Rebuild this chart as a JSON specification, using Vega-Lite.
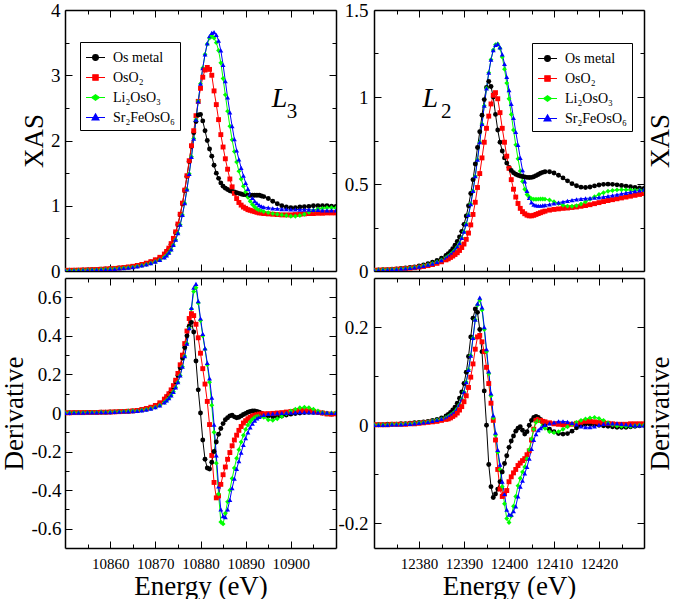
{
"$schema": "https://vega.github.io/schema/vega-lite/v6.json",
"background": "white",
"padding": {"left": 0, "top": 1, "right": 0, "bottom": 0},
"config": {
  "font": "Liberation Serif",
  "view": {"stroke": null},
  "axis": {"labelFont": "Liberation Serif, serif", "titleFont": "Liberation Serif, serif", "labelColor": "#000", "titleColor": "#000", "titleFontWeight": "normal", "titleFontSize": 27, "domainColor": "#000", "domainWidth": 1.5, "tickColor": "#000", "tickWidth": 1, "grid": false, "zindex": 1},
  "legend": {"labelFont": "Liberation Serif", "labelFontSize": 14, "labelColor": "#000", "symbolStrokeWidth": 1.2}
},
"datasets": {
"l3x": [
{"E":10850,"M":0.010,"O":0.010,"L":0.008,"S":0.008},
{"E":10851,"M":0.011,"O":0.011,"L":0.009,"S":0.009},
{"E":10852,"M":0.012,"O":0.012,"L":0.010,"S":0.010},
{"E":10853,"M":0.014,"O":0.014,"L":0.011,"S":0.011},
{"E":10854,"M":0.016,"O":0.016,"L":0.013,"S":0.013},
{"E":10855,"M":0.018,"O":0.018,"L":0.015,"S":0.015},
{"E":10856,"M":0.020,"O":0.021,"L":0.017,"S":0.017},
{"E":10857,"M":0.023,"O":0.024,"L":0.020,"S":0.020},
{"E":10858,"M":0.026,"O":0.027,"L":0.023,"S":0.023},
{"E":10859,"M":0.030,"O":0.031,"L":0.026,"S":0.026},
{"E":10860,"M":0.034,"O":0.035,"L":0.030,"S":0.030},
{"E":10861,"M":0.039,"O":0.040,"L":0.034,"S":0.034},
{"E":10862,"M":0.045,"O":0.046,"L":0.039,"S":0.039},
{"E":10863,"M":0.052,"O":0.053,"L":0.045,"S":0.045},
{"E":10864,"M":0.060,"O":0.062,"L":0.052,"S":0.052},
{"E":10865,"M":0.070,"O":0.072,"L":0.060,"S":0.061},
{"E":10866,"M":0.082,"O":0.085,"L":0.071,"S":0.072},
{"E":10867,"M":0.097,"O":0.100,"L":0.084,"S":0.085},
{"E":10868,"M":0.115,"O":0.120,"L":0.100,"S":0.101},
{"E":10869,"M":0.137,"O":0.143,"L":0.119,"S":0.120},
{"E":10870,"M":0.165,"O":0.172,"L":0.142,"S":0.143},
{"E":10871,"M":0.20,"O":0.21,"L":0.17,"S":0.17},
{"E":10872,"M":0.25,"O":0.26,"L":0.21,"S":0.21},
{"E":10872.5,"M":0.29,"O":0.30,"L":0.24,"S":0.24},
{"E":10873,"M":0.34,"O":0.35,"L":0.28,"S":0.28},
{"E":10873.5,"M":0.41,"O":0.42,"L":0.33,"S":0.33},
{"E":10874,"M":0.49,"O":0.50,"L":0.40,"S":0.40},
{"E":10874.5,"M":0.59,"O":0.60,"L":0.48,"S":0.48},
{"E":10875,"M":0.71,"O":0.72,"L":0.58,"S":0.58},
{"E":10875.5,"M":0.86,"O":0.87,"L":0.71,"S":0.71},
{"E":10876,"M":1.03,"O":1.04,"L":0.86,"S":0.86},
{"E":10876.5,"M":1.23,"O":1.24,"L":1.04,"S":1.04},
{"E":10877,"M":1.45,"O":1.46,"L":1.25,"S":1.25},
{"E":10877.5,"M":1.68,"O":1.69,"L":1.49,"S":1.49},
{"E":10878,"M":1.91,"O":1.92,"L":1.75,"S":1.75},
{"E":10878.5,"M":2.12,"O":2.15,"L":2.03,"S":2.03},
{"E":10879,"M":2.29,"O":2.38,"L":2.32,"S":2.32},
{"E":10879.5,"M":2.39,"O":2.60,"L":2.60,"S":2.60},
{"E":10880,"M":2.40,"O":2.80,"L":2.87,"S":2.87},
{"E":10880.5,"M":2.30,"O":2.97,"L":3.11,"S":3.11},
{"E":10881,"M":2.15,"O":3.08,"L":3.32,"S":3.32},
{"E":10881.5,"M":2.00,"O":3.12,"L":3.48,"S":3.49},
{"E":10882,"M":1.87,"O":3.09,"L":3.57,"S":3.60},
{"E":10882.5,"M":1.76,"O":3.00,"L":3.60,"S":3.65},
{"E":10883,"M":1.62,"O":2.76,"L":3.57,"S":3.66},
{"E":10883.5,"M":1.50,"O":2.55,"L":3.50,"S":3.62},
{"E":10884,"M":1.42,"O":2.32,"L":3.38,"S":3.53},
{"E":10884.5,"M":1.35,"O":2.09,"L":3.19,"S":3.38},
{"E":10885,"M":1.30,"O":1.90,"L":2.95,"S":3.16},
{"E":10885.5,"M":1.27,"O":1.72,"L":2.70,"S":2.91},
{"E":10886,"M":1.25,"O":1.56,"L":2.45,"S":2.66},
{"E":10886.5,"M":1.23,"O":1.41,"L":2.22,"S":2.43},
{"E":10887,"M":1.22,"O":1.29,"L":2.01,"S":2.22},
{"E":10887.5,"M":1.21,"O":1.19,"L":1.83,"S":2.02},
{"E":10888,"M":1.20,"O":1.11,"L":1.67,"S":1.85},
{"E":10888.5,"M":1.19,"O":1.05,"L":1.53,"S":1.71},
{"E":10889,"M":1.18,"O":1.01,"L":1.41,"S":1.58},
{"E":10889.5,"M":1.17,"O":0.98,"L":1.30,"S":1.46},
{"E":10890,"M":1.17,"O":0.96,"L":1.21,"S":1.35},
{"E":10890.5,"M":1.16,"O":0.94,"L":1.13,"S":1.26},
{"E":10891,"M":1.16,"O":0.93,"L":1.07,"S":1.18},
{"E":10891.5,"M":1.16,"O":0.92,"L":1.02,"S":1.12},
{"E":10892,"M":1.16,"O":0.91,"L":0.98,"S":1.07},
{"E":10892.5,"M":1.16,"O":0.90,"L":0.95,"S":1.04},
{"E":10893,"M":1.16,"O":0.89,"L":0.93,"S":1.01},
{"E":10893.5,"M":1.15,"O":0.89,"L":0.92,"S":0.99},
{"E":10894,"M":1.14,"O":0.88,"L":0.91,"S":0.98},
{"E":10895,"M":1.11,"O":0.875,"L":0.895,"S":0.97},
{"E":10896,"M":1.07,"O":0.87,"L":0.88,"S":0.96},
{"E":10897,"M":1.03,"O":0.865,"L":0.87,"S":0.955},
{"E":10898,"M":1.00,"O":0.86,"L":0.86,"S":0.95},
{"E":10899,"M":0.98,"O":0.86,"L":0.85,"S":0.95},
{"E":10900,"M":0.97,"O":0.86,"L":0.84,"S":0.945},
{"E":10901,"M":0.97,"O":0.865,"L":0.84,"S":0.945},
{"E":10902,"M":0.98,"O":0.87,"L":0.85,"S":0.94},
{"E":10903,"M":0.985,"O":0.875,"L":0.87,"S":0.94},
{"E":10904,"M":0.99,"O":0.88,"L":0.90,"S":0.94},
{"E":10905,"M":1.00,"O":0.88,"L":0.93,"S":0.935},
{"E":10906,"M":1.00,"O":0.885,"L":0.95,"S":0.935},
{"E":10907,"M":1.00,"O":0.885,"L":0.96,"S":0.93},
{"E":10908,"M":1.00,"O":0.89,"L":0.97,"S":0.93},
{"E":10909,"M":0.995,"O":0.89,"L":0.97,"S":0.93},
{"E":10910,"M":0.99,"O":0.89,"L":0.965,"S":0.93}
],
"l3d": [
{"E":10850,"M":0.001,"O":0.001,"L":0.001,"S":0.001},
{"E":10851,"M":0.001,"O":0.001,"L":0.001,"S":0.001},
{"E":10852,"M":0.002,"O":0.002,"L":0.002,"S":0.002},
{"E":10853,"M":0.002,"O":0.002,"L":0.002,"S":0.002},
{"E":10854,"M":0.002,"O":0.002,"L":0.002,"S":0.002},
{"E":10855,"M":0.003,"O":0.003,"L":0.003,"S":0.003},
{"E":10856,"M":0.003,"O":0.003,"L":0.003,"S":0.003},
{"E":10857,"M":0.003,"O":0.003,"L":0.003,"S":0.003},
{"E":10858,"M":0.004,"O":0.004,"L":0.004,"S":0.004},
{"E":10859,"M":0.004,"O":0.004,"L":0.004,"S":0.004},
{"E":10860,"M":0.005,"O":0.005,"L":0.005,"S":0.005},
{"E":10861,"M":0.006,"O":0.006,"L":0.006,"S":0.006},
{"E":10862,"M":0.007,"O":0.007,"L":0.007,"S":0.007},
{"E":10863,"M":0.008,"O":0.008,"L":0.008,"S":0.008},
{"E":10864,"M":0.009,"O":0.009,"L":0.009,"S":0.009},
{"E":10865,"M":0.011,"O":0.011,"L":0.010,"S":0.010},
{"E":10866,"M":0.013,"O":0.013,"L":0.011,"S":0.011},
{"E":10867,"M":0.017,"O":0.018,"L":0.014,"S":0.014},
{"E":10868,"M":0.022,"O":0.023,"L":0.018,"S":0.018},
{"E":10869,"M":0.028,"O":0.030,"L":0.023,"S":0.023},
{"E":10870,"M":0.037,"O":0.039,"L":0.030,"S":0.030},
{"E":10871,"M":0.050,"O":0.053,"L":0.040,"S":0.040},
{"E":10872,"M":0.068,"O":0.072,"L":0.055,"S":0.055},
{"E":10872.5,"M":0.080,"O":0.085,"L":0.065,"S":0.065},
{"E":10873,"M":0.095,"O":0.100,"L":0.077,"S":0.077},
{"E":10873.5,"M":0.113,"O":0.120,"L":0.092,"S":0.092},
{"E":10874,"M":0.135,"O":0.142,"L":0.110,"S":0.110},
{"E":10874.5,"M":0.162,"O":0.170,"L":0.133,"S":0.133},
{"E":10875,"M":0.195,"O":0.205,"L":0.160,"S":0.160},
{"E":10875.5,"M":0.235,"O":0.250,"L":0.195,"S":0.195},
{"E":10876,"M":0.285,"O":0.300,"L":0.240,"S":0.240},
{"E":10876.5,"M":0.340,"O":0.360,"L":0.295,"S":0.295},
{"E":10877,"M":0.400,"O":0.425,"L":0.360,"S":0.360},
{"E":10877.5,"M":0.450,"O":0.490,"L":0.440,"S":0.440},
{"E":10878,"M":0.470,"O":0.515,"L":0.540,"S":0.545},
{"E":10878.5,"M":0.420,"O":0.505,"L":0.630,"S":0.650},
{"E":10879,"M":0.270,"O":0.460,"L":0.650,"S":0.670},
{"E":10879.5,"M":0.120,"O":0.390,"L":0.570,"S":0.580},
{"E":10880,"M":0.000,"O":0.310,"L":0.480,"S":0.490},
{"E":10880.5,"M":-0.140,"O":0.230,"L":0.400,"S":0.410},
{"E":10881,"M":-0.240,"O":0.150,"L":0.330,"S":0.335},
{"E":10881.5,"M":-0.285,"O":0.060,"L":0.250,"S":0.260},
{"E":10882,"M":-0.290,"O":-0.060,"L":0.160,"S":0.180},
{"E":10882.5,"M":-0.255,"O":-0.220,"L":0.040,"S":0.080},
{"E":10883,"M":-0.200,"O":-0.360,"L":-0.100,"S":-0.060},
{"E":10883.5,"M":-0.150,"O":-0.440,"L":-0.260,"S":-0.220},
{"E":10884,"M":-0.110,"O":-0.430,"L":-0.420,"S":-0.380},
{"E":10884.5,"M":-0.080,"O":-0.370,"L":-0.565,"S":-0.500},
{"E":10885,"M":-0.055,"O":-0.320,"L":-0.575,"S":-0.535},
{"E":10885.5,"M":-0.035,"O":-0.280,"L":-0.520,"S":-0.540},
{"E":10886,"M":-0.025,"O":-0.240,"L":-0.460,"S":-0.500},
{"E":10886.5,"M":-0.015,"O":-0.205,"L":-0.400,"S":-0.450},
{"E":10887,"M":-0.012,"O":-0.170,"L":-0.340,"S":-0.390},
{"E":10887.5,"M":-0.020,"O":-0.140,"L":-0.285,"S":-0.340},
{"E":10888,"M":-0.025,"O":-0.115,"L":-0.235,"S":-0.290},
{"E":10888.5,"M":-0.022,"O":-0.090,"L":-0.190,"S":-0.250},
{"E":10889,"M":-0.015,"O":-0.070,"L":-0.150,"S":-0.205},
{"E":10889.5,"M":-0.008,"O":-0.052,"L":-0.115,"S":-0.165},
{"E":10890,"M":-0.002,"O":-0.040,"L":-0.085,"S":-0.130},
{"E":10890.5,"M":0.004,"O":-0.030,"L":-0.062,"S":-0.100},
{"E":10891,"M":0.008,"O":-0.022,"L":-0.045,"S":-0.075},
{"E":10891.5,"M":0.010,"O":-0.016,"L":-0.032,"S":-0.055},
{"E":10892,"M":0.010,"O":-0.012,"L":-0.022,"S":-0.040},
{"E":10892.5,"M":0.008,"O":-0.008,"L":-0.016,"S":-0.028},
{"E":10893,"M":0.004,"O":-0.006,"L":-0.014,"S":-0.020},
{"E":10893.5,"M":-0.001,"O":-0.005,"L":-0.016,"S":-0.014},
{"E":10894,"M":-0.006,"O":-0.004,"L":-0.022,"S":-0.010},
{"E":10895,"M":-0.015,"O":-0.003,"L":-0.035,"S":-0.005},
{"E":10896,"M":-0.020,"O":-0.002,"L":-0.038,"S":-0.003},
{"E":10897,"M":-0.020,"O":0.000,"L":-0.030,"S":-0.001},
{"E":10898,"M":-0.016,"O":0.002,"L":-0.018,"S":0.000},
{"E":10899,"M":-0.011,"O":0.005,"L":-0.004,"S":0.001},
{"E":10900,"M":-0.006,"O":0.008,"L":0.010,"S":0.002},
{"E":10901,"M":-0.003,"O":0.011,"L":0.020,"S":0.003},
{"E":10902,"M":0.000,"O":0.013,"L":0.027,"S":0.004},
{"E":10903,"M":0.002,"O":0.013,"L":0.030,"S":0.004},
{"E":10904,"M":0.003,"O":0.011,"L":0.028,"S":0.004},
{"E":10905,"M":0.003,"O":0.008,"L":0.020,"S":0.003},
{"E":10906,"M":0.002,"O":0.004,"L":0.010,"S":0.003},
{"E":10907,"M":0.000,"O":0.000,"L":0.002,"S":0.002},
{"E":10908,"M":-0.004,"O":-0.005,"L":-0.002,"S":0.002},
{"E":10909,"M":-0.006,"O":-0.006,"L":0.000,"S":0.001},
{"E":10910,"M":-0.004,"O":-0.004,"L":0.001,"S":0.001}
],
"l2x": [
{"E":12370,"M":0.005,"O":0.004,"L":0.005,"S":0.005},
{"E":12371,"M":0.006,"O":0.005,"L":0.006,"S":0.006},
{"E":12372,"M":0.007,"O":0.006,"L":0.007,"S":0.007},
{"E":12373,"M":0.008,"O":0.007,"L":0.008,"S":0.008},
{"E":12374,"M":0.010,"O":0.008,"L":0.009,"S":0.009},
{"E":12375,"M":0.012,"O":0.010,"L":0.011,"S":0.011},
{"E":12376,"M":0.014,"O":0.012,"L":0.013,"S":0.013},
{"E":12377,"M":0.017,"O":0.014,"L":0.015,"S":0.015},
{"E":12378,"M":0.020,"O":0.016,"L":0.018,"S":0.018},
{"E":12379,"M":0.024,"O":0.019,"L":0.021,"S":0.021},
{"E":12380,"M":0.029,"O":0.022,"L":0.025,"S":0.025},
{"E":12381,"M":0.035,"O":0.026,"L":0.030,"S":0.030},
{"E":12382,"M":0.042,"O":0.031,"L":0.036,"S":0.036},
{"E":12383,"M":0.050,"O":0.037,"L":0.043,"S":0.043},
{"E":12384,"M":0.060,"O":0.044,"L":0.052,"S":0.052},
{"E":12385,"M":0.073,"O":0.053,"L":0.063,"S":0.063},
{"E":12386,"M":0.090,"O":0.064,"L":0.077,"S":0.077},
{"E":12386.5,"M":0.100,"O":0.070,"L":0.085,"S":0.085},
{"E":12387,"M":0.112,"O":0.078,"L":0.095,"S":0.095},
{"E":12387.5,"M":0.128,"O":0.086,"L":0.106,"S":0.106},
{"E":12388,"M":0.148,"O":0.095,"L":0.120,"S":0.120},
{"E":12388.5,"M":0.170,"O":0.105,"L":0.138,"S":0.138},
{"E":12389,"M":0.196,"O":0.118,"L":0.160,"S":0.160},
{"E":12389.5,"M":0.228,"O":0.135,"L":0.190,"S":0.190},
{"E":12390,"M":0.268,"O":0.155,"L":0.226,"S":0.226},
{"E":12390.5,"M":0.316,"O":0.182,"L":0.270,"S":0.270},
{"E":12391,"M":0.375,"O":0.218,"L":0.322,"S":0.322},
{"E":12391.5,"M":0.445,"O":0.265,"L":0.385,"S":0.385},
{"E":12392,"M":0.525,"O":0.325,"L":0.460,"S":0.460},
{"E":12392.5,"M":0.615,"O":0.395,"L":0.545,"S":0.545},
{"E":12393,"M":0.710,"O":0.480,"L":0.640,"S":0.640},
{"E":12393.5,"M":0.800,"O":0.560,"L":0.740,"S":0.740},
{"E":12394,"M":0.895,"O":0.650,"L":0.845,"S":0.845},
{"E":12394.5,"M":0.985,"O":0.740,"L":0.950,"S":0.950},
{"E":12395,"M":1.055,"O":0.820,"L":1.050,"S":1.050},
{"E":12395.5,"M":1.090,"O":0.890,"L":1.140,"S":1.140},
{"E":12396,"M":1.060,"O":0.960,"L":1.215,"S":1.215},
{"E":12396.5,"M":1.000,"O":1.010,"L":1.270,"S":1.270},
{"E":12397,"M":0.900,"O":1.025,"L":1.300,"S":1.300},
{"E":12397.5,"M":0.810,"O":0.990,"L":1.305,"S":1.305},
{"E":12398,"M":0.740,"O":0.910,"L":1.280,"S":1.285},
{"E":12398.5,"M":0.690,"O":0.820,"L":1.230,"S":1.245},
{"E":12399,"M":0.650,"O":0.740,"L":1.160,"S":1.190},
{"E":12399.5,"M":0.620,"O":0.660,"L":1.080,"S":1.115},
{"E":12400,"M":0.595,"O":0.590,"L":0.990,"S":1.040},
{"E":12400.5,"M":0.578,"O":0.525,"L":0.900,"S":0.960},
{"E":12401,"M":0.565,"O":0.470,"L":0.810,"S":0.880},
{"E":12401.5,"M":0.556,"O":0.425,"L":0.725,"S":0.800},
{"E":12402,"M":0.550,"O":0.388,"L":0.645,"S":0.725},
{"E":12402.5,"M":0.546,"O":0.360,"L":0.575,"S":0.650},
{"E":12403,"M":0.543,"O":0.341,"L":0.515,"S":0.580},
{"E":12403.5,"M":0.540,"O":0.329,"L":0.470,"S":0.515},
{"E":12404,"M":0.538,"O":0.321,"L":0.440,"S":0.460},
{"E":12404.5,"M":0.537,"O":0.317,"L":0.425,"S":0.420},
{"E":12405,"M":0.538,"O":0.317,"L":0.415,"S":0.395},
{"E":12405.5,"M":0.542,"O":0.320,"L":0.412,"S":0.382},
{"E":12406,"M":0.548,"O":0.325,"L":0.412,"S":0.377},
{"E":12406.5,"M":0.555,"O":0.330,"L":0.413,"S":0.375},
{"E":12407,"M":0.562,"O":0.335,"L":0.414,"S":0.375},
{"E":12407.5,"M":0.567,"O":0.340,"L":0.414,"S":0.377},
{"E":12408,"M":0.570,"O":0.344,"L":0.413,"S":0.379},
{"E":12409,"M":0.570,"O":0.350,"L":0.408,"S":0.383},
{"E":12410,"M":0.563,"O":0.354,"L":0.398,"S":0.388},
{"E":12411,"M":0.550,"O":0.357,"L":0.388,"S":0.393},
{"E":12412,"M":0.535,"O":0.360,"L":0.378,"S":0.398},
{"E":12413,"M":0.518,"O":0.362,"L":0.373,"S":0.403},
{"E":12414,"M":0.502,"O":0.365,"L":0.372,"S":0.408},
{"E":12415,"M":0.490,"O":0.368,"L":0.376,"S":0.412},
{"E":12416,"M":0.482,"O":0.372,"L":0.385,"S":0.415},
{"E":12417,"M":0.480,"O":0.376,"L":0.398,"S":0.417},
{"E":12418,"M":0.483,"O":0.381,"L":0.412,"S":0.419},
{"E":12419,"M":0.489,"O":0.387,"L":0.427,"S":0.421},
{"E":12420,"M":0.494,"O":0.393,"L":0.440,"S":0.423},
{"E":12421,"M":0.498,"O":0.399,"L":0.450,"S":0.426},
{"E":12422,"M":0.499,"O":0.405,"L":0.458,"S":0.430},
{"E":12423,"M":0.498,"O":0.410,"L":0.463,"S":0.434},
{"E":12424,"M":0.495,"O":0.415,"L":0.466,"S":0.439},
{"E":12425,"M":0.491,"O":0.420,"L":0.467,"S":0.444},
{"E":12426,"M":0.488,"O":0.425,"L":0.467,"S":0.449},
{"E":12427,"M":0.484,"O":0.430,"L":0.466,"S":0.454},
{"E":12428,"M":0.480,"O":0.435,"L":0.465,"S":0.459},
{"E":12429,"M":0.477,"O":0.440,"L":0.464,"S":0.464},
{"E":12430,"M":0.475,"O":0.445,"L":0.463,"S":0.468}
],
"l2d": [
{"E":12370,"M":0.001,"O":0.001,"L":0.001,"S":0.001},
{"E":12371,"M":0.001,"O":0.001,"L":0.001,"S":0.001},
{"E":12372,"M":0.001,"O":0.001,"L":0.001,"S":0.001},
{"E":12373,"M":0.002,"O":0.001,"L":0.001,"S":0.001},
{"E":12374,"M":0.002,"O":0.002,"L":0.002,"S":0.002},
{"E":12375,"M":0.002,"O":0.002,"L":0.002,"S":0.002},
{"E":12376,"M":0.003,"O":0.002,"L":0.002,"S":0.002},
{"E":12377,"M":0.003,"O":0.002,"L":0.003,"S":0.003},
{"E":12378,"M":0.004,"O":0.003,"L":0.003,"S":0.003},
{"E":12379,"M":0.005,"O":0.003,"L":0.004,"S":0.004},
{"E":12380,"M":0.006,"O":0.004,"L":0.005,"S":0.005},
{"E":12381,"M":0.007,"O":0.005,"L":0.006,"S":0.006},
{"E":12382,"M":0.008,"O":0.006,"L":0.007,"S":0.007},
{"E":12383,"M":0.010,"O":0.007,"L":0.009,"S":0.009},
{"E":12384,"M":0.012,"O":0.008,"L":0.011,"S":0.011},
{"E":12385,"M":0.015,"O":0.010,"L":0.013,"S":0.013},
{"E":12386,"M":0.019,"O":0.012,"L":0.016,"S":0.016},
{"E":12386.5,"M":0.022,"O":0.013,"L":0.018,"S":0.018},
{"E":12387,"M":0.026,"O":0.015,"L":0.021,"S":0.021},
{"E":12387.5,"M":0.031,"O":0.018,"L":0.024,"S":0.024},
{"E":12388,"M":0.037,"O":0.021,"L":0.028,"S":0.028},
{"E":12388.5,"M":0.045,"O":0.025,"L":0.034,"S":0.034},
{"E":12389,"M":0.055,"O":0.031,"L":0.042,"S":0.042},
{"E":12389.5,"M":0.068,"O":0.038,"L":0.053,"S":0.053},
{"E":12390,"M":0.085,"O":0.048,"L":0.068,"S":0.068},
{"E":12390.5,"M":0.108,"O":0.060,"L":0.088,"S":0.088},
{"E":12391,"M":0.140,"O":0.077,"L":0.113,"S":0.113},
{"E":12391.5,"M":0.180,"O":0.098,"L":0.142,"S":0.142},
{"E":12392,"M":0.218,"O":0.125,"L":0.178,"S":0.178},
{"E":12392.5,"M":0.237,"O":0.155,"L":0.215,"S":0.215},
{"E":12393,"M":0.230,"O":0.180,"L":0.245,"S":0.248},
{"E":12393.5,"M":0.195,"O":0.183,"L":0.255,"S":0.260},
{"E":12394,"M":0.150,"O":0.170,"L":0.235,"S":0.240},
{"E":12394.5,"M":0.070,"O":0.150,"L":0.195,"S":0.200},
{"E":12395,"M":0.000,"O":0.118,"L":0.150,"S":0.155},
{"E":12395.5,"M":-0.080,"O":0.085,"L":0.105,"S":0.110},
{"E":12396,"M":-0.125,"O":0.045,"L":0.060,"S":0.065},
{"E":12396.5,"M":-0.147,"O":0.010,"L":0.015,"S":0.020},
{"E":12397,"M":-0.140,"O":-0.030,"L":-0.020,"S":-0.015},
{"E":12397.5,"M":-0.130,"O":-0.090,"L":-0.055,"S":-0.050},
{"E":12398,"M":-0.115,"O":-0.130,"L":-0.090,"S":-0.080},
{"E":12398.5,"M":-0.095,"O":-0.145,"L":-0.125,"S":-0.115},
{"E":12399,"M":-0.078,"O":-0.140,"L":-0.160,"S":-0.140},
{"E":12399.5,"M":-0.062,"O":-0.133,"L":-0.190,"S":-0.172},
{"E":12400,"M":-0.045,"O":-0.115,"L":-0.198,"S":-0.182},
{"E":12400.5,"M":-0.032,"O":-0.105,"L":-0.185,"S":-0.182},
{"E":12401,"M":-0.022,"O":-0.097,"L":-0.165,"S":-0.175},
{"E":12401.5,"M":-0.012,"O":-0.090,"L":-0.145,"S":-0.165},
{"E":12402,"M":-0.006,"O":-0.082,"L":-0.123,"S":-0.145},
{"E":12402.5,"M":-0.003,"O":-0.077,"L":-0.108,"S":-0.125},
{"E":12403,"M":-0.010,"O":-0.072,"L":-0.095,"S":-0.113},
{"E":12403.5,"M":-0.018,"O":-0.068,"L":-0.085,"S":-0.098},
{"E":12404,"M":-0.013,"O":-0.060,"L":-0.068,"S":-0.085},
{"E":12404.5,"M":0.000,"O":-0.052,"L":-0.050,"S":-0.068},
{"E":12405,"M":0.010,"O":-0.030,"L":-0.028,"S":-0.048},
{"E":12405.5,"M":0.016,"O":-0.008,"L":-0.008,"S":-0.030},
{"E":12406,"M":0.018,"O":0.010,"L":0.006,"S":-0.018},
{"E":12406.5,"M":0.016,"O":0.012,"L":0.010,"S":-0.010},
{"E":12407,"M":0.012,"O":0.010,"L":0.008,"S":-0.006},
{"E":12407.5,"M":0.007,"O":0.008,"L":0.000,"S":-0.002},
{"E":12408,"M":0.002,"O":0.007,"L":-0.006,"S":0.001},
{"E":12409,"M":-0.008,"O":0.005,"L":-0.013,"S":0.004},
{"E":12410,"M":-0.013,"O":0.003,"L":-0.015,"S":0.006},
{"E":12411,"M":-0.017,"O":0.002,"L":-0.013,"S":0.008},
{"E":12412,"M":-0.018,"O":0.001,"L":-0.008,"S":0.008},
{"E":12413,"M":-0.017,"O":0.001,"L":-0.003,"S":0.007},
{"E":12414,"M":-0.012,"O":0.002,"L":0.002,"S":0.005},
{"E":12415,"M":-0.005,"O":0.004,"L":0.006,"S":0.002},
{"E":12416,"M":0.000,"O":0.006,"L":0.010,"S":-0.002},
{"E":12417,"M":0.002,"O":0.008,"L":0.013,"S":-0.004},
{"E":12418,"M":0.002,"O":0.008,"L":0.015,"S":-0.004},
{"E":12419,"M":0.001,"O":0.007,"L":0.016,"S":-0.002},
{"E":12420,"M":0.000,"O":0.006,"L":0.014,"S":0.001},
{"E":12421,"M":-0.001,"O":0.005,"L":0.010,"S":0.003},
{"E":12422,"M":-0.002,"O":0.004,"L":0.005,"S":0.004},
{"E":12423,"M":-0.003,"O":0.003,"L":0.001,"S":0.004},
{"E":12424,"M":-0.004,"O":0.002,"L":-0.001,"S":0.004},
{"E":12425,"M":-0.004,"O":0.002,"L":-0.002,"S":0.003},
{"E":12426,"M":-0.004,"O":0.002,"L":-0.002,"S":0.002},
{"E":12427,"M":-0.003,"O":0.003,"L":-0.002,"S":0.001},
{"E":12428,"M":-0.002,"O":0.003,"L":-0.001,"S":0.000},
{"E":12429,"M":-0.001,"O":0.003,"L":0.000,"S":0.000},
{"E":12430,"M":0.000,"O":0.003,"L":0.000,"S":0.000}
]
},
"columns": 2,
"spacing": {"row": 7, "column": 38},
"bounds": "flush",
"resolve": {"scale": {"color": "independent", "shape": "independent", "stroke": "independent"}, "legend": {"color": "independent", "shape": "independent", "stroke": "independent"}},
"concat": [
{
  "width": 271, "height": 261,
  "data": {"name": "l3x"},
  "resolve": {"axis": {"x": "independent", "y": "independent"}, "scale": {"color": "independent", "shape": "independent", "stroke": "independent"}},
  "layer": [
    {"transform": [{"fold": ["M","O","L","S"], "as": ["s","v"]}],
     "mark": {"type": "line", "strokeWidth": 1, "clip": true},
     "encoding": {
       "x": {"field": "E", "type": "quantitative", "scale": {"domain": [10850, 10910], "nice": false, "zero": false},
             "axis": {"orient": "bottom", "values": [10860,10870,10880,10890,10900], "labels": false, "title": null, "tickSize": -7}},
       "y": {"field": "v", "type": "quantitative", "scale": {"domain": [0, 4], "nice": false, "zero": false},
             "axis": {"orient": "left", "values": [0,1,2,3,4], "format": "d", "title": "XAS", "titleFont": "Liberation Serif, serif", "labelFont": "Liberation Serif, serif", "titlePadding": 2, "labelFontSize": 19, "labelPadding": 12, "tickSize": -7}},
       "color": {"field": "s", "type": "nominal", "scale": {"domain": ["M","O","L","S"], "range": ["#000000","#ff0000","#00ff00","#0000ff"]}, "legend": null}
     }},
    {"transform": [{"fold": ["M","O","L","S"], "as": ["s","v"]}],
     "mark": {"type": "point", "filled": true, "size": 24, "opacity": 1, "clip": true},
     "encoding": {
       "x": {"field": "E", "type": "quantitative", "scale": {"domain": [10850, 10910], "nice": false, "zero": false},
             "axis": {"orient": "top", "values": [10860,10870,10880,10890,10900], "labels": false, "title": null, "tickSize": -7}},
       "y": {"field": "v", "type": "quantitative", "scale": {"domain": [0, 4], "nice": false, "zero": false},
             "axis": {"orient": "right", "values": [0,1,2,3,4], "labels": false, "title": null, "tickSize": -7}},
       "color": {"field": "s", "type": "nominal", "scale": {"domain": ["M","O","L","S"], "range": ["#000000","#ff0000","#00ff00","#0000ff"]}, "legend": null},
       "shape": {"field": "s", "type": "nominal", "scale": {"domain": ["M","O","L","S"], "range": ["circle","square","diamond","triangle-up"]}, "legend": null}
     }},
    {"transform": [{"filter": "false"}],
     "mark": {"type": "point"},
     "encoding": {
       "x": {"field": "E", "type": "quantitative", "scale": {"domain": [10850, 10910], "nice": false, "zero": false},
             "axis": {"orient": "bottom", "values": [10855,10865,10875,10885,10895,10905], "labels": false, "domain": false, "title": null, "tickSize": -4}},
       "y": {"field": "M", "type": "quantitative", "scale": {"domain": [0, 4], "nice": false, "zero": false},
             "axis": {"orient": "left", "values": [0.5,1.5,2.5,3.5], "labels": false, "domain": false, "title": null, "tickSize": -4}}
     }},
    {"transform": [{"filter": "false"}],
     "mark": {"type": "point"},
     "encoding": {
       "x": {"field": "E", "type": "quantitative", "scale": {"domain": [10850, 10910], "nice": false, "zero": false},
             "axis": {"orient": "top", "values": [10855,10865,10875,10885,10895,10905], "labels": false, "domain": false, "title": null, "tickSize": -4}},
       "y": {"field": "M", "type": "quantitative", "scale": {"domain": [0, 4], "nice": false, "zero": false},
             "axis": {"orient": "right", "values": [0.5,1.5,2.5,3.5], "labels": false, "domain": false, "title": null, "tickSize": -4}}
     }},
    {"transform": [{"filter": "false"}],
     "mark": {"type": "point", "filled": true, "opacity": 1, "strokeWidth": 1.2},
     "encoding": {
       "color": {"field": "s", "type": "nominal", "scale": {"domain": ["M","O","L","S"], "range": ["#000000","#ff0000","#00ff00","#0000ff"]},
                 "legend": {"orient": "none", "legendX": 15, "legendY": 32, "title": null, "padding": 5, "strokeColor": "#000", "fillColor": "#fff", "symbolSize": 361, "rowPadding": 2, "labelOffset": 7, "labelExpr": "datum.value == 'M' ? 'Os metal' : datum.value == 'O' ? 'OsO₂' : datum.value == 'L' ? 'Li₂OsO₃' : 'Sr₂FeOsO₆'"}},
       "stroke": {"field": "s", "type": "nominal", "scale": {"domain": ["M","O","L","S"], "range": ["#000000","#ff0000","#00ff00","#0000ff"]},
                 "legend": {"orient": "none", "legendX": 15, "legendY": 32, "title": null, "padding": 5, "strokeColor": "#000", "fillColor": "#fff", "symbolSize": 361, "rowPadding": 2, "labelOffset": 7, "labelExpr": "datum.value == 'M' ? 'Os metal' : datum.value == 'O' ? 'OsO₂' : datum.value == 'L' ? 'Li₂OsO₃' : 'Sr₂FeOsO₆'"}},
       "shape": {"field": "s", "type": "nominal", "scale": {"domain": ["M","O","L","S"], "range": ["M-1,0H1M-0.3,0A0.3,0.3,0,1,0,0.3,0A0.3,0.3,0,1,0,-0.3,0Z", "M-1,0H1M-0.28,-0.28H0.28V0.28H-0.28Z", "M-1,0H1M-0.4,0L0,-0.28L0.4,0L0,0.28Z", "M-1,0H1M0,-0.38L0.36,0.26H-0.36Z"]},
                 "legend": {"orient": "none", "legendX": 15, "legendY": 32, "title": null, "padding": 5, "strokeColor": "#000", "fillColor": "#fff", "symbolSize": 361, "rowPadding": 2, "labelOffset": 7, "labelExpr": "datum.value == 'M' ? 'Os metal' : datum.value == 'O' ? 'OsO₂' : datum.value == 'L' ? 'Li₂OsO₃' : 'Sr₂FeOsO₆'"}}
     }},
    {"data": {"values": [{"E": 10895.8, "v": 2.52, "t": "L"}]},
     "mark": {"type": "text", "font": "Liberation Serif", "fontSize": 28, "fontStyle": "italic", "align": "left", "baseline": "alphabetic", "color": "#000"},
     "encoding": {"x": {"field": "E", "type": "quantitative", "scale": {"domain": [10850, 10910], "nice": false, "zero": false}, "axis": null},
                  "y": {"field": "v", "type": "quantitative", "scale": {"domain": [0, 4], "nice": false, "zero": false}, "axis": null},
                  "text": {"field": "t"}}},
    {"data": {"values": [{"E": 10899.1, "v": 2.35, "t": "3"}]},
     "mark": {"type": "text", "font": "Liberation Serif", "fontSize": 21, "align": "left", "baseline": "alphabetic", "color": "#000"},
     "encoding": {"x": {"field": "E", "type": "quantitative", "scale": {"domain": [10850, 10910], "nice": false, "zero": false}, "axis": null},
                  "y": {"field": "v", "type": "quantitative", "scale": {"domain": [0, 4], "nice": false, "zero": false}, "axis": null},
                  "text": {"field": "t"}}}
  ]
},
{
  "width": 270, "height": 261,
  "data": {"name": "l2x"},
  "resolve": {"axis": {"x": "independent", "y": "independent"}, "scale": {"color": "independent", "shape": "independent", "stroke": "independent"}},
  "layer": [
    {"transform": [{"fold": ["M","O","L","S"], "as": ["s","v"]}],
     "mark": {"type": "line", "strokeWidth": 1, "clip": true},
     "encoding": {
       "x": {"field": "E", "type": "quantitative", "scale": {"domain": [12370, 12430], "nice": false, "zero": false},
             "axis": {"orient": "bottom", "values": [12380,12390,12400,12410,12420], "labels": false, "title": null, "tickSize": -7}},
       "y": {"field": "v", "type": "quantitative", "scale": {"domain": [0, 1.5], "nice": false, "zero": false},
             "axis": {"orient": "left", "values": [0,0.5,1,1.5], "format": "~g", "title": null, "labelFont": "Liberation Serif, serif", "labelFontSize": 19, "labelPadding": 13, "tickSize": -7}},
       "color": {"field": "s", "type": "nominal", "scale": {"domain": ["M","O","L","S"], "range": ["#000000","#ff0000","#00ff00","#0000ff"]}, "legend": null}
     }},
    {"transform": [{"fold": ["M","O","L","S"], "as": ["s","v"]}],
     "mark": {"type": "point", "filled": true, "size": 24, "opacity": 1, "clip": true},
     "encoding": {
       "x": {"field": "E", "type": "quantitative", "scale": {"domain": [12370, 12430], "nice": false, "zero": false},
             "axis": {"orient": "top", "values": [12380,12390,12400,12410,12420], "labels": false, "title": null, "tickSize": -7}},
       "y": {"field": "v", "type": "quantitative", "scale": {"domain": [0, 1.5], "nice": false, "zero": false},
             "axis": {"orient": "right", "values": [0,0.5,1,1.5], "labels": false, "title": "XAS", "titleFont": "Liberation Serif, serif", "titleAngle": 270, "titleBaseline": "top", "titlePadding": 3, "tickSize": -7}},
       "color": {"field": "s", "type": "nominal", "scale": {"domain": ["M","O","L","S"], "range": ["#000000","#ff0000","#00ff00","#0000ff"]}, "legend": null},
       "shape": {"field": "s", "type": "nominal", "scale": {"domain": ["M","O","L","S"], "range": ["circle","square","diamond","triangle-up"]}, "legend": null}
     }},
    {"transform": [{"filter": "false"}],
     "mark": {"type": "point"},
     "encoding": {
       "x": {"field": "E", "type": "quantitative", "scale": {"domain": [12370, 12430], "nice": false, "zero": false},
             "axis": {"orient": "bottom", "values": [12375,12385,12395,12405,12415,12425], "labels": false, "domain": false, "title": null, "tickSize": -4}},
       "y": {"field": "M", "type": "quantitative", "scale": {"domain": [0, 1.5], "nice": false, "zero": false},
             "axis": {"orient": "left", "values": [0.25,0.75,1.25], "labels": false, "domain": false, "title": null, "tickSize": -4}}
     }},
    {"transform": [{"filter": "false"}],
     "mark": {"type": "point"},
     "encoding": {
       "x": {"field": "E", "type": "quantitative", "scale": {"domain": [12370, 12430], "nice": false, "zero": false},
             "axis": {"orient": "top", "values": [12375,12385,12395,12405,12415,12425], "labels": false, "domain": false, "title": null, "tickSize": -4}},
       "y": {"field": "M", "type": "quantitative", "scale": {"domain": [0, 1.5], "nice": false, "zero": false},
             "axis": {"orient": "right", "values": [0.25,0.75,1.25], "labels": false, "domain": false, "title": null, "tickSize": -4}}
     }},
    {"transform": [{"filter": "false"}],
     "mark": {"type": "point", "filled": true, "opacity": 1, "strokeWidth": 1.2},
     "encoding": {
       "color": {"field": "s", "type": "nominal", "scale": {"domain": ["M","O","L","S"], "range": ["#000000","#ff0000","#00ff00","#0000ff"]},
                 "legend": {"orient": "none", "legendX": 158, "legendY": 33, "title": null, "padding": 5, "strokeColor": "#000", "fillColor": "#fff", "symbolSize": 361, "rowPadding": 2, "labelOffset": 7, "labelExpr": "datum.value == 'M' ? 'Os metal' : datum.value == 'O' ? 'OsO₂' : datum.value == 'L' ? 'Li₂OsO₃' : 'Sr₂FeOsO₆'"}},
       "stroke": {"field": "s", "type": "nominal", "scale": {"domain": ["M","O","L","S"], "range": ["#000000","#ff0000","#00ff00","#0000ff"]},
                 "legend": {"orient": "none", "legendX": 158, "legendY": 33, "title": null, "padding": 5, "strokeColor": "#000", "fillColor": "#fff", "symbolSize": 361, "rowPadding": 2, "labelOffset": 7, "labelExpr": "datum.value == 'M' ? 'Os metal' : datum.value == 'O' ? 'OsO₂' : datum.value == 'L' ? 'Li₂OsO₃' : 'Sr₂FeOsO₆'"}},
       "shape": {"field": "s", "type": "nominal", "scale": {"domain": ["M","O","L","S"], "range": ["M-1,0H1M-0.3,0A0.3,0.3,0,1,0,0.3,0A0.3,0.3,0,1,0,-0.3,0Z", "M-1,0H1M-0.28,-0.28H0.28V0.28H-0.28Z", "M-1,0H1M-0.4,0L0,-0.28L0.4,0L0,0.28Z", "M-1,0H1M0,-0.38L0.36,0.26H-0.36Z"]},
                 "legend": {"orient": "none", "legendX": 158, "legendY": 33, "title": null, "padding": 5, "strokeColor": "#000", "fillColor": "#fff", "symbolSize": 361, "rowPadding": 2, "labelOffset": 7, "labelExpr": "datum.value == 'M' ? 'Os metal' : datum.value == 'O' ? 'OsO₂' : datum.value == 'L' ? 'Li₂OsO₃' : 'Sr₂FeOsO₆'"}}
     }},
    {"data": {"values": [{"E": 12380.8, "v": 0.943, "t": "L"}]},
     "mark": {"type": "text", "font": "Liberation Serif", "fontSize": 28, "fontStyle": "italic", "align": "left", "baseline": "alphabetic", "color": "#000"},
     "encoding": {"x": {"field": "E", "type": "quantitative", "scale": {"domain": [12370, 12430], "nice": false, "zero": false}, "axis": null},
                  "y": {"field": "v", "type": "quantitative", "scale": {"domain": [0, 1.5], "nice": false, "zero": false}, "axis": null},
                  "text": {"field": "t"}}},
    {"data": {"values": [{"E": 12384.9, "v": 0.879, "t": "2"}]},
     "mark": {"type": "text", "font": "Liberation Serif", "fontSize": 21, "align": "left", "baseline": "alphabetic", "color": "#000"},
     "encoding": {"x": {"field": "E", "type": "quantitative", "scale": {"domain": [12370, 12430], "nice": false, "zero": false}, "axis": null},
                  "y": {"field": "v", "type": "quantitative", "scale": {"domain": [0, 1.5], "nice": false, "zero": false}, "axis": null},
                  "text": {"field": "t"}}}
  ]
},
{
  "width": 271, "height": 270,
  "data": {"name": "l3d"},
  "transform": [{"fold": ["M","O","L","S"], "as": ["s","v"]}],
  "resolve": {"axis": {"x": "independent", "y": "independent"}},
  "layer": [
    {"mark": {"type": "line", "strokeWidth": 1, "clip": true},
     "encoding": {
       "x": {"field": "E", "type": "quantitative", "scale": {"domain": [10850, 10910], "nice": false, "zero": false},
             "axis": {"orient": "bottom", "values": [10860,10870,10880,10890,10900], "format": "d", "title": "Energy (eV)", "titleFont": "Liberation Serif, serif", "labelFont": "Liberation Serif, serif", "titlePadding": 2, "labelFontSize": 15, "labelPadding": 15, "tickSize": -7}},
       "y": {"field": "v", "type": "quantitative", "scale": {"domain": [-0.7, 0.7], "nice": false, "zero": false},
             "axis": {"orient": "left", "values": [-0.6,-0.4,-0.2,0,0.2,0.4,0.6], "labelExpr": "'' + datum.value", "title": "Derivative", "titleFont": "Liberation Serif, serif", "labelFont": "Liberation Serif, serif", "titlePadding": 2, "labelFontSize": 19, "labelPadding": 11, "tickSize": -7}},
       "color": {"field": "s", "type": "nominal", "scale": {"domain": ["M","O","L","S"], "range": ["#000000","#ff0000","#00ff00","#0000ff"]}, "legend": null}
     }},
    {"mark": {"type": "point", "filled": true, "size": 24, "opacity": 1, "clip": true},
     "encoding": {
       "x": {"field": "E", "type": "quantitative", "scale": {"domain": [10850, 10910], "nice": false, "zero": false},
             "axis": {"orient": "top", "values": [10860,10870,10880,10890,10900], "labels": false, "title": null, "tickSize": -7}},
       "y": {"field": "v", "type": "quantitative", "scale": {"domain": [-0.7, 0.7], "nice": false, "zero": false},
             "axis": {"orient": "right", "values": [-0.6,-0.4,-0.2,0,0.2,0.4,0.6], "labels": false, "title": null, "tickSize": -7}},
       "color": {"field": "s", "type": "nominal", "scale": {"domain": ["M","O","L","S"], "range": ["#000000","#ff0000","#00ff00","#0000ff"]}, "legend": null},
       "shape": {"field": "s", "type": "nominal", "scale": {"domain": ["M","O","L","S"], "range": ["circle","square","diamond","triangle-up"]}, "legend": null}
     }},
    {"transform": [{"filter": "false"}],
     "mark": {"type": "point"},
     "encoding": {
       "x": {"field": "E", "type": "quantitative", "scale": {"domain": [10850, 10910], "nice": false, "zero": false},
             "axis": {"orient": "bottom", "values": [10855,10865,10875,10885,10895,10905], "labels": false, "domain": false, "title": null, "tickSize": -4}},
       "y": {"field": "v", "type": "quantitative", "scale": {"domain": [-0.7, 0.7], "nice": false, "zero": false},
             "axis": {"orient": "left", "values": [-0.5,-0.3,-0.1,0.1,0.3,0.5], "labels": false, "domain": false, "title": null, "tickSize": -4}}
     }},
    {"transform": [{"filter": "false"}],
     "mark": {"type": "point"},
     "encoding": {
       "x": {"field": "E", "type": "quantitative", "scale": {"domain": [10850, 10910], "nice": false, "zero": false},
             "axis": {"orient": "top", "values": [10855,10865,10875,10885,10895,10905], "labels": false, "domain": false, "title": null, "tickSize": -4}},
       "y": {"field": "v", "type": "quantitative", "scale": {"domain": [-0.7, 0.7], "nice": false, "zero": false},
             "axis": {"orient": "right", "values": [-0.5,-0.3,-0.1,0.1,0.3,0.5], "labels": false, "domain": false, "title": null, "tickSize": -4}}
     }}
  ]
},
{
  "width": 270, "height": 270,
  "data": {"name": "l2d"},
  "transform": [{"fold": ["M","O","L","S"], "as": ["s","v"]}],
  "resolve": {"axis": {"x": "independent", "y": "independent"}},
  "layer": [
    {"mark": {"type": "line", "strokeWidth": 1, "clip": true},
     "encoding": {
       "x": {"field": "E", "type": "quantitative", "scale": {"domain": [12370, 12430], "nice": false, "zero": false},
             "axis": {"orient": "bottom", "values": [12380,12390,12400,12410,12420], "format": "d", "title": "Energy (eV)", "titleFont": "Liberation Serif, serif", "labelFont": "Liberation Serif, serif", "titlePadding": 2, "labelFontSize": 15, "labelPadding": 15, "tickSize": -7}},
       "y": {"field": "v", "type": "quantitative", "scale": {"domain": [-0.25, 0.3], "nice": false, "zero": false},
             "axis": {"orient": "left", "values": [-0.2,0,0.2], "labelExpr": "'' + datum.value", "title": null, "labelFont": "Liberation Serif, serif", "labelFontSize": 19, "labelPadding": 13, "tickSize": -7}},
       "color": {"field": "s", "type": "nominal", "scale": {"domain": ["M","O","L","S"], "range": ["#000000","#ff0000","#00ff00","#0000ff"]}, "legend": null}
     }},
    {"mark": {"type": "point", "filled": true, "size": 24, "opacity": 1, "clip": true},
     "encoding": {
       "x": {"field": "E", "type": "quantitative", "scale": {"domain": [12370, 12430], "nice": false, "zero": false},
             "axis": {"orient": "top", "values": [12380,12390,12400,12410,12420], "labels": false, "title": null, "tickSize": -7}},
       "y": {"field": "v", "type": "quantitative", "scale": {"domain": [-0.25, 0.3], "nice": false, "zero": false},
             "axis": {"orient": "right", "values": [-0.2,0,0.2], "labels": false, "title": "Derivative", "titleFont": "Liberation Serif, serif", "titleAngle": 270, "titleBaseline": "top", "titlePadding": 3, "tickSize": -7}},
       "color": {"field": "s", "type": "nominal", "scale": {"domain": ["M","O","L","S"], "range": ["#000000","#ff0000","#00ff00","#0000ff"]}, "legend": null},
       "shape": {"field": "s", "type": "nominal", "scale": {"domain": ["M","O","L","S"], "range": ["circle","square","diamond","triangle-up"]}, "legend": null}
     }},
    {"transform": [{"filter": "false"}],
     "mark": {"type": "point"},
     "encoding": {
       "x": {"field": "E", "type": "quantitative", "scale": {"domain": [12370, 12430], "nice": false, "zero": false},
             "axis": {"orient": "bottom", "values": [12375,12385,12395,12405,12415,12425], "labels": false, "domain": false, "title": null, "tickSize": -4}},
       "y": {"field": "v", "type": "quantitative", "scale": {"domain": [-0.25, 0.3], "nice": false, "zero": false},
             "axis": {"orient": "left", "values": [-0.1,0.1], "labels": false, "domain": false, "title": null, "tickSize": -4}}
     }},
    {"transform": [{"filter": "false"}],
     "mark": {"type": "point"},
     "encoding": {
       "x": {"field": "E", "type": "quantitative", "scale": {"domain": [12370, 12430], "nice": false, "zero": false},
             "axis": {"orient": "top", "values": [12375,12385,12395,12405,12415,12425], "labels": false, "domain": false, "title": null, "tickSize": -4}},
       "y": {"field": "v", "type": "quantitative", "scale": {"domain": [-0.25, 0.3], "nice": false, "zero": false},
             "axis": {"orient": "right", "values": [-0.1,0.1], "labels": false, "domain": false, "title": null, "tickSize": -4}}
     }}
  ]
}
]
}
